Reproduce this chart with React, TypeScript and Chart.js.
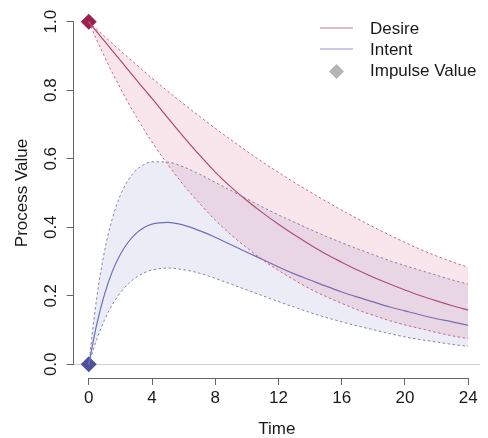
import React, { useEffect, useRef } from "react";
import { Chart, registerables } from "chart.js";

Chart.register(...registerables);

// ---- data ----
const TIME = [0, 0.5, 1, 1.5, 2, 2.5, 3, 3.5, 4, 5, 6, 7, 8, 9, 10, 11, 12, 13, 14, 15, 16, 17, 18, 19, 20, 21, 22, 23, 24];

const DESIRE = [1.0, 0.971, 0.943, 0.915, 0.887, 0.859, 0.831, 0.803, 0.776, 0.719, 0.664, 0.611, 0.561, 0.517, 0.478, 0.442, 0.409, 0.378, 0.349, 0.322, 0.298, 0.275, 0.254, 0.235, 0.217, 0.2, 0.185, 0.171, 0.158];
const DESIRE_HI = [1.0, 0.978, 0.957, 0.936, 0.915, 0.895, 0.875, 0.855, 0.835, 0.797, 0.76, 0.724, 0.689, 0.655, 0.622, 0.59, 0.56, 0.531, 0.503, 0.476, 0.45, 0.425, 0.401, 0.378, 0.356, 0.335, 0.316, 0.299, 0.283];
const DESIRE_LO = [1.0, 0.947, 0.898, 0.85, 0.806, 0.763, 0.723, 0.685, 0.649, 0.583, 0.523, 0.47, 0.421, 0.378, 0.34, 0.305, 0.274, 0.246, 0.22, 0.198, 0.178, 0.159, 0.143, 0.128, 0.115, 0.104, 0.093, 0.083, 0.075];

const INTENT = [0, 0.116, 0.205, 0.272, 0.321, 0.357, 0.382, 0.399, 0.409, 0.414, 0.406, 0.39, 0.371, 0.349, 0.327, 0.306, 0.284, 0.264, 0.246, 0.228, 0.211, 0.196, 0.182, 0.168, 0.156, 0.144, 0.133, 0.124, 0.114];
const INTENT_HI = [0, 0.193, 0.331, 0.427, 0.494, 0.538, 0.567, 0.583, 0.591, 0.59, 0.576, 0.555, 0.531, 0.507, 0.483, 0.459, 0.436, 0.415, 0.394, 0.374, 0.355, 0.337, 0.32, 0.303, 0.288, 0.274, 0.26, 0.246, 0.234];
const INTENT_LO = [0, 0.072, 0.13, 0.175, 0.209, 0.235, 0.254, 0.267, 0.275, 0.281, 0.276, 0.266, 0.251, 0.234, 0.217, 0.2, 0.183, 0.167, 0.151, 0.137, 0.124, 0.112, 0.101, 0.09, 0.08, 0.072, 0.065, 0.058, 0.052];

const DESIRE_IMPULSE = [{ x: 0, y: 1 }];
const INTENT_IMPULSE = [{ x: 0, y: 0 }];

const X_TICKS = [0, 4, 8, 12, 16, 20, 24];
const Y_TICKS = [0, 0.2, 0.4, 0.6, 0.8, 1.0];

const LEGEND_LABELS = ["Desire", "Intent", "Impulse Value"];

const X_TITLE = "Time";
const Y_TITLE = "Process Value";

// ---- styles ----
const FONT = '"Liberation Sans", Arial, Helvetica, sans-serif';
const TEXT_COLOR = "#1a1a1a";
const AXIS_COLOR = "#666666";
const DESIRE_LINE = "rgb(176,68,104)";
const INTENT_LINE = "rgb(108,108,184)";
const DESIRE_DASH = "rgba(190,80,118,0.85)";
const INTENT_DASH = "rgba(112,112,156,0.85)";
const DESIRE_FILL = "rgba(212,90,128,0.15)";
const INTENT_FILL = "rgba(118,118,200,0.14)";
const DESIRE_POINT = "#9c1f4c";
const INTENT_POINT = "#4d5199";

const toXY = (ys: number[]) => TIME.map((t, i) => ({ x: t, y: ys[i] }));

const rAxesPlugin = {
  id: "rAxes",
  afterDraw(chart: any) {
    const { ctx, chartArea, scales } = chart;
    const xs = scales.x;
    const ys = scales.y;
    ctx.save();
    ctx.strokeStyle = AXIS_COLOR;
    ctx.lineWidth = 1;
    ctx.beginPath();
    const yb = Math.round(chartArea.bottom) + 0.5;
    ctx.moveTo(xs.getPixelForValue(X_TICKS[0]), yb);
    ctx.lineTo(xs.getPixelForValue(X_TICKS[X_TICKS.length - 1]), yb);
    const xl = Math.round(chartArea.left) - 0.5;
    ctx.moveTo(xl, ys.getPixelForValue(Y_TICKS[0]));
    ctx.lineTo(xl, ys.getPixelForValue(Y_TICKS[Y_TICKS.length - 1]));
    ctx.stroke();
    ctx.restore();
  },
};

const rLegendPlugin = {
  id: "rLegend",
  afterDraw(chart: any) {
    const { ctx } = chart;
    const lineX0 = 320;
    const lineX1 = 353;
    const textX = 370;
    const rows = [29, 50, 71.5];
    ctx.save();
    ctx.font = `17px ${FONT}`;
    ctx.textBaseline = "middle";
    ctx.textAlign = "left";
    ctx.fillStyle = TEXT_COLOR;
    ctx.lineWidth = 1.2;
    ctx.strokeStyle = "rgb(196,120,148)";
    ctx.beginPath();
    ctx.moveTo(lineX0, rows[0] - 1);
    ctx.lineTo(lineX1, rows[0] - 1);
    ctx.stroke();
    ctx.strokeStyle = "rgb(150,150,210)";
    ctx.beginPath();
    ctx.moveTo(lineX0, rows[1] - 1);
    ctx.lineTo(lineX1, rows[1] - 1);
    ctx.stroke();
    const cx = (lineX0 + lineX1) / 2;
    const cy = rows[2];
    const r = 7.5;
    ctx.fillStyle = "#b5b5b5";
    ctx.beginPath();
    ctx.moveTo(cx, cy - r);
    ctx.lineTo(cx + r, cy);
    ctx.lineTo(cx, cy + r);
    ctx.lineTo(cx - r, cy);
    ctx.closePath();
    ctx.fill();
    ctx.fillStyle = TEXT_COLOR;
    LEGEND_LABELS.forEach((lab, i) => ctx.fillText(lab, textX, rows[i]));
    ctx.restore();
  },
};

export default function App() {
  const ref = useRef<HTMLCanvasElement | null>(null);

  useEffect(() => {
    document.body.style.margin = "0";
    const canvas = ref.current;
    if (!canvas) return;
    Chart.defaults.font.family = FONT;
    const dashed = (data: number[], color: string, fill: any, bg: string) => ({
      data: toXY(data),
      borderColor: color,
      borderWidth: 1,
      borderDash: [2.5, 2.5],
      pointRadius: 0,
      fill,
      backgroundColor: bg,
      cubicInterpolationMode: "monotone" as const,
    });
    const chart = new Chart(canvas, {
      type: "line",
      data: {
        datasets: [
          dashed(DESIRE_LO, DESIRE_DASH, false, "transparent"),
          dashed(DESIRE_HI, DESIRE_DASH, "-1", DESIRE_FILL),
          dashed(INTENT_LO, INTENT_DASH, false, "transparent"),
          dashed(INTENT_HI, INTENT_DASH, "-1", INTENT_FILL),
          {
            label: "Desire",
            data: toXY(DESIRE),
            borderColor: DESIRE_LINE,
            borderWidth: 1.2,
            pointRadius: 0,
            fill: false,
            cubicInterpolationMode: "monotone",
          },
          {
            label: "Intent",
            data: toXY(INTENT),
            borderColor: INTENT_LINE,
            borderWidth: 1.2,
            pointRadius: 0,
            fill: false,
            cubicInterpolationMode: "monotone",
          },
          {
            label: "Desire impulse",
            data: DESIRE_IMPULSE,
            showLine: false,
            pointStyle: "rectRot",
            pointRadius: 8,
            pointBackgroundColor: DESIRE_POINT,
            pointBorderColor: DESIRE_POINT,
            pointBorderWidth: 0,
            clip: false,
          },
          {
            label: "Intent impulse",
            data: INTENT_IMPULSE,
            showLine: false,
            pointStyle: "rectRot",
            pointRadius: 8,
            pointBackgroundColor: INTENT_POINT,
            pointBorderColor: INTENT_POINT,
            pointBorderWidth: 0,
            clip: false,
          },
        ] as any,
      },
      options: {
        animation: false,
        responsive: false,
        events: [],
        layout: { padding: { top: 6, right: 1, left: 0, bottom: 0 } },
        plugins: {
          legend: { display: false },
          tooltip: { enabled: false },
        },
        scales: {
          x: {
            type: "linear",
            min: -0.96,
            max: 24.75,
            afterBuildTicks: (s: any) => {
              s.ticks = X_TICKS.map((v) => ({ value: v }));
            },
            afterFit: (s: any) => {
              s.height = 60;
              s.paddingLeft = 0;
              s.paddingRight = 0;
            },
            border: { display: false },
            grid: {
              drawOnChartArea: false,
              tickLength: 7,
              tickColor: AXIS_COLOR,
              color: AXIS_COLOR,
            },
            ticks: {
              font: { size: 17 },
              color: TEXT_COLOR,
              padding: 3,
              maxRotation: 0,
              minRotation: 0,
              callback: (v: any) => String(v),
            },
            title: {
              display: true,
              text: X_TITLE,
              font: { size: 17 },
              color: TEXT_COLOR,
              padding: { top: 0, bottom: -2 },
            },
          },
          y: {
            type: "linear",
            min: -0.04,
            max: 1.04,
            afterBuildTicks: (s: any) => {
              s.ticks = Y_TICKS.map((v) => ({ value: v }));
            },
            afterFit: (s: any) => {
              s.width = 73.6;
              s.paddingTop = 0;
              s.paddingBottom = 0;
            },
            border: { display: false },
            grid: {
              drawOnChartArea: true,
              tickLength: 7,
              tickColor: AXIS_COLOR,
              color: (c: any) => (c.tick && c.tick.value === 0 ? "#d0d0d0" : "rgba(0,0,0,0)"),
            },
            ticks: {
              font: { size: 17 },
              color: TEXT_COLOR,
              padding: 3,
              minRotation: 90,
              maxRotation: 90,
              crossAlign: "center",
              callback: (v: any) => Number(v).toFixed(1),
            },
            title: {
              display: true,
              text: Y_TITLE,
              font: { size: 17 },
              color: TEXT_COLOR,
              padding: { top: 12, bottom: 0 },
            },
          },
        },
      },
      plugins: [rAxesPlugin, rLegendPlugin],
    } as any);
    return () => chart.destroy();
  }, []);

  return (
    <div style={{ width: 488, height: 438, position: "relative", background: "#fff" }}>
      <canvas ref={ref} width={488} height={438} />
    </div>
  );
}
